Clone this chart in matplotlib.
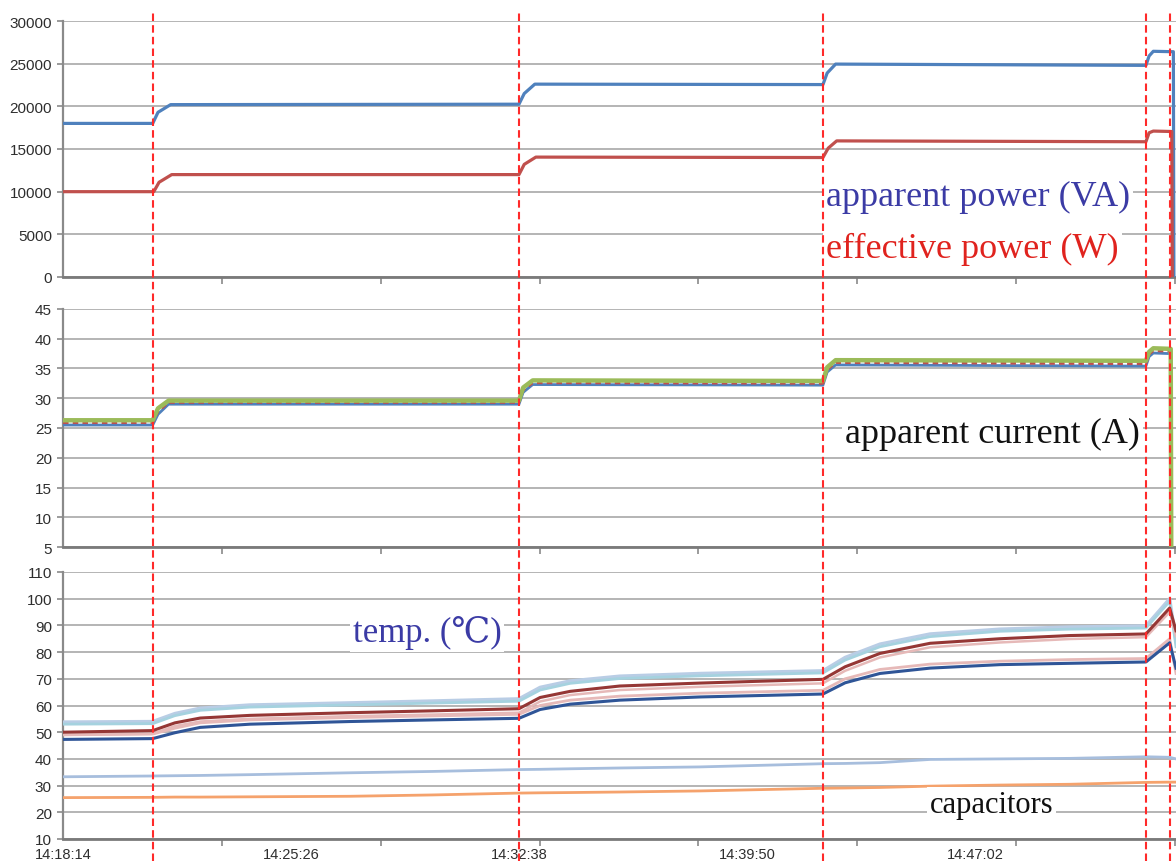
import matplotlib
matplotlib.use('Agg')
import matplotlib.pyplot as plt
from matplotlib.transforms import blended_transform_factory
from matplotlib.lines import Line2D

# ---------------- data (time in seconds after 14:18:14) ----------------
tick_labels = ['14:18:14', '14:25:26', '14:32:38', '14:39:50', '14:47:02']
tick_secs = [0, 432, 864, 1296, 1728]
minor_secs = [0, 301, 602, 903, 1204, 1505, 1806, 2107]
marker_secs = [170, 864, 1440, 2052, 2097]   # red dashed lines

# panel 1: power
va_t = [0, 170, 180, 204, 864, 874, 894, 1440, 1448, 1464, 2052, 2058, 2066, 2104, 2105]
apparent_va = [18000, 18000, 19300, 20200, 20250, 21500, 22600, 22550, 23900, 24950,
               24800, 25900, 26450, 26400, 0]
w_t = [0, 172, 182, 206, 864, 874, 896, 1440, 1450, 1466, 2052, 2058, 2066, 2101, 2102]
effective_w = [10000, 10000, 11100, 12000, 12000, 13200, 14050, 14000, 15100, 15950,
               15850, 16900, 17100, 17050, 0]

# panel 2: currents
cur_t = [0, 170, 180, 200, 864, 872, 890, 1440, 1448, 1464, 2052, 2058, 2066, 2099, 2100]
current_green = [26.3, 26.3, 28.3, 29.6, 29.6, 31.8, 33.0, 32.9, 35.2, 36.4, 36.3, 37.8, 38.4, 38.3, 5]
current_red = [25.9, 25.9, 27.8, 29.3, 29.3, 31.4, 32.6, 32.5, 34.8, 36.0, 35.8, 37.4, 38.0, 37.9, 5]
current_blue = [25.5, 25.5, 27.3, 29.0, 29.0, 31.0, 32.3, 32.2, 34.4, 35.6, 35.4, 37.0, 37.6, 37.5, 5]

# panel 3: temperatures
temp_t = [0, 170, 212, 260, 354, 544, 700, 864, 904, 961, 1055, 1207, 1440,
          1482, 1548, 1643, 1775, 1908, 2052, 2097, 2109]
temp_top = [53.8, 54.0, 57.0, 59.0, 60.2, 61.0, 61.7, 62.5, 66.8, 69.2, 71.0, 72.0, 73.0,
            78.0, 83.0, 86.8, 88.6, 89.4, 89.8, 100.0, 84.0]
temp_cyan = [53.0, 53.2, 56.2, 58.2, 59.4, 60.2, 60.9, 61.6, 65.8, 68.3, 70.1, 71.1, 72.2,
             77.0, 82.0, 85.8, 87.8, 88.6, 89.0, 99.0, 82.0]
temp_darkred = [50.0, 50.6, 53.5, 55.3, 56.3, 57.3, 58.0, 58.8, 63.0, 65.3, 67.3, 68.4, 69.8,
                74.5, 79.5, 83.3, 85.0, 86.2, 86.8, 96.5, 88.0]
temp_pink = [49.0, 49.4, 52.3, 54.0, 55.0, 56.0, 56.6, 57.3, 61.5, 63.9, 65.8, 67.0, 68.3,
             73.0, 78.0, 81.8, 83.6, 84.9, 85.6, 95.0, 86.0]
temp_lowpink = [49.0, 49.3, 51.5, 53.5, 54.6, 55.5, 56.1, 56.7, 60.0, 62.0, 63.5, 64.6, 65.7,
                70.0, 73.5, 75.5, 76.6, 77.2, 77.6, 85.0, 72.0]
temp_darkblue = [47.3, 47.6, 49.8, 51.8, 53.0, 54.0, 54.6, 55.2, 58.5, 60.5, 62.0, 63.2, 64.3,
                 68.5, 72.0, 74.0, 75.3, 75.8, 76.3, 83.5, 74.0]
temp_lightblue = [33.3, 33.6, 33.7, 33.8, 34.1, 34.8, 35.3, 36.0, 36.1, 36.3, 36.6, 37.0, 38.2,
                  38.3, 38.6, 39.8, 40.0, 40.2, 40.8, 40.6, 40.0]
temp_capacitor = [25.5, 25.6, 25.7, 25.7, 25.8, 26.0, 26.5, 27.2, 27.3, 27.4, 27.6, 28.0, 29.0,
                  29.1, 29.3, 29.8, 30.2, 30.5, 31.2, 31.3, 31.3]

# ---------------- figure ----------------
W, H = 1176, 862
fig = plt.figure(figsize=(W / 100, H / 100), dpi=100)

def px_axes(top, bottom, left=63, right=1176):
    return fig.add_axes([left / W, 1 - bottom / H, (right - left) / W, (bottom - top) / H])

ax1 = px_axes(22, 278)
ax2 = px_axes(310, 548)
ax3 = px_axes(573, 840)

XMAX = 2109
grid_c = '#a8a8a8'
sans = ['Liberation Sans', 'DejaVu Sans']

for ax in (ax1, ax2, ax3):
    ax.set_xlim(0, XMAX)
    for s in ('top', 'right'):
        ax.spines[s].set_visible(False)
    ax.spines['left'].set_color('#8a8a8a')
    ax.spines['left'].set_linewidth(1.6)
    ax.spines['bottom'].set_color('#7a7a7a')
    ax.spines['bottom'].set_linewidth(2.0)
    ax.yaxis.grid(True, color=grid_c, linewidth=1.2)
    ax.set_axisbelow(True)
    ax.tick_params(axis='y', length=4, width=1.2, color='#8a8a8a', pad=4)
    ax.set_xticks(minor_secs, minor=True)
    ax.tick_params(axis='x', which='minor', length=5, width=1.2, color='#8a8a8a')
    ax.tick_params(axis='x', which='major', length=0, pad=6)

ax1.set_ylim(0, 30000)
ax1.set_yticks(range(0, 30001, 5000))
ax2.set_ylim(5, 45)
ax2.set_yticks(range(5, 46, 5))
ax3.set_ylim(10, 110)
ax3.set_yticks(range(10, 111, 10))

ax1.set_xticks(tick_secs, [''] * len(tick_secs))
ax2.set_xticks(tick_secs, [''] * len(tick_secs))
ax3.set_xticks(tick_secs, tick_labels)

for ax in (ax1, ax2, ax3):
    for lab in ax.get_yticklabels():
        lab.set_fontfamily(sans)
        lab.set_fontsize(11)
        lab.set_color('#2e2e2e')
for lab in ax3.get_xticklabels():
    lab.set_fontfamily(sans)
    lab.set_fontsize(10.5)
    lab.set_color('#2e2e2e')

# panel 1
ax1.plot(va_t, apparent_va, color='#4F81BD', lw=2.3, zorder=3)
ax1.plot(w_t, effective_w, color='#C0504D', lw=2.3, zorder=3)

# panel 2
ax2.plot(cur_t, current_blue, color='#4F81BD', lw=2.0, zorder=3)
ax2.plot(cur_t, current_red, color='#C0504D', lw=2.0, zorder=3, dashes=(2, 1.5))
ax2.plot(cur_t, current_green, color='#9BBB59', lw=3.2, zorder=4)

# panel 3
ax3.plot(temp_t, temp_capacitor, color='#F5A26C', lw=2.0, zorder=3)
ax3.plot(temp_t, temp_lightblue, color='#A7BEDD', lw=2.0, zorder=3)
ax3.plot(temp_t, temp_top, color='#B9CDE5', lw=2.4, zorder=3)
ax3.plot(temp_t, temp_cyan, color='#A5D2DF', lw=2.0, zorder=3)
ax3.plot(temp_t, temp_pink, color='#E6B9B8', lw=1.8, zorder=3)
ax3.plot(temp_t, temp_darkred, color='#953735', lw=2.2, zorder=4)
ax3.plot(temp_t, temp_lowpink, color='#E6B9B8', lw=2.0, zorder=3)
ax3.plot(temp_t, temp_darkblue, color='#2F5597', lw=2.2, zorder=4)

# annotation texts with white backing boxes
serif = ['Liberation Serif', 'DejaVu Serif', 'Noto Sans CJK JP']
box = dict(facecolor='white', edgecolor='none', pad=2)
ax1.text(1446, 9400, 'apparent power (VA)', color='#3B3BA5', fontsize=26, family=serif,
         ha='left', va='center', bbox=box, zorder=5)
ax1.text(1446, 3300, 'effective power (W)', color='#E0231E', fontsize=26, family=serif,
         ha='left', va='center', bbox=box, zorder=5)
ax2.text(1482, 24.0, 'apparent current (A)', color='#111111', fontsize=26, family=serif,
         ha='left', va='center', bbox=box, zorder=5)
ax3.text(549, 87.5, 'temp. (\u2103)', color='#3B3BA5', fontsize=25, family=serif,
         ha='left', va='center', bbox=box, zorder=5)
ax3.text(1642, 23.1, 'capacitors', color='#111111', fontsize=22, family=serif,
         ha='left', va='center', bbox=box, zorder=5)

# red dashed vertical marker lines spanning all panels
trans = blended_transform_factory(ax3.transData, fig.transFigure)
for t in marker_secs:
    fig.add_artist(Line2D([t, t], [0, 1 - 12 / H], transform=trans, color='#FF2A2A',
                          lw=1.5, linestyle=(0, (3.6, 2.0)), zorder=10))

fig.savefig('out.png', dpi=100)
